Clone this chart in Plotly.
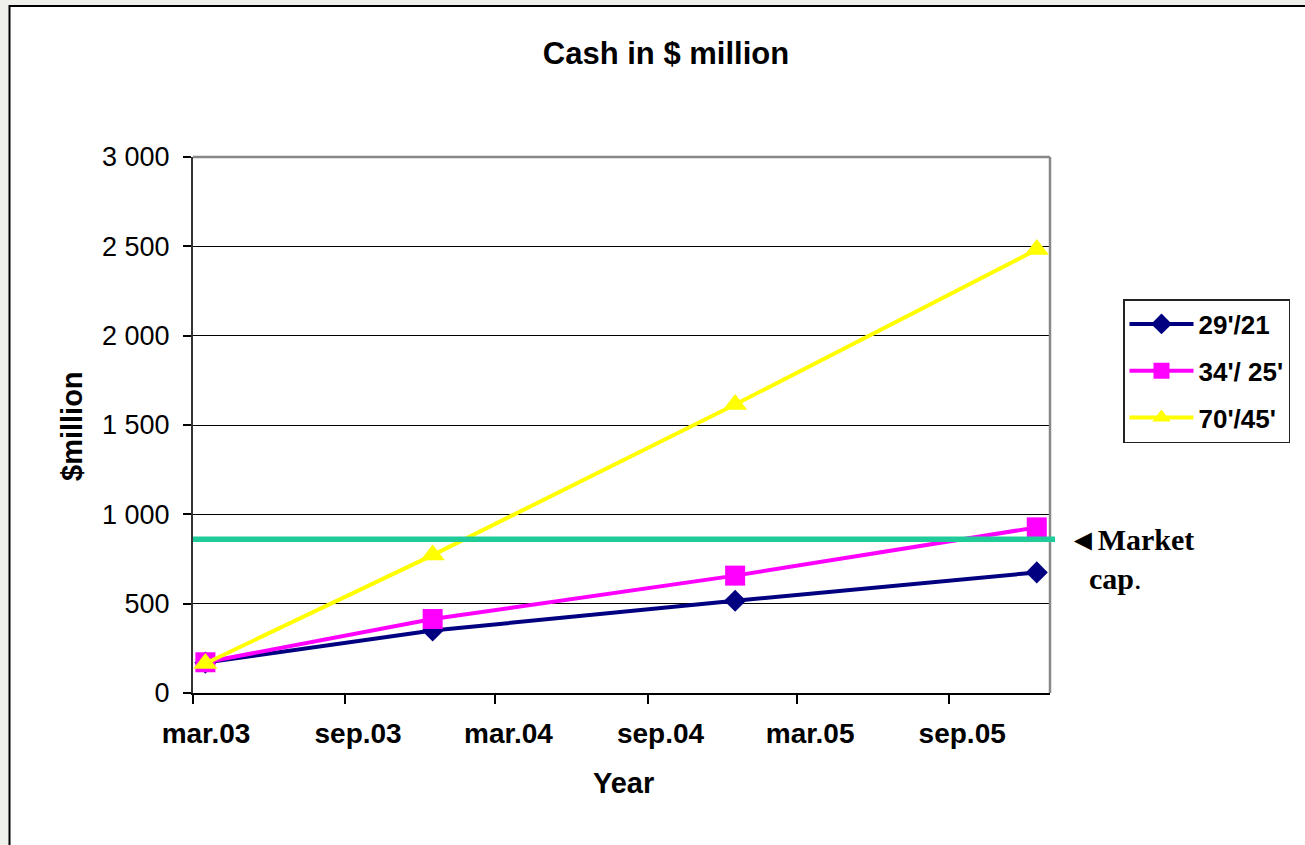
import pandas as pd
import plotly.graph_objects as go

# ---- data -------------------------------------------------------------
months = ["2003-03", "2003-12", "2004-12", "2005-12"]
series_names = ["29'/21", "34'/ 25'", "70'/45'"]
cash_29_21 = [170, 350, 516, 675]
cash_34_25 = [172, 414, 657, 927]
cash_70_45 = [165, 772, 1615, 2482]
market_cap = 860

x_tick_dates = ["2003-03-01", "2003-09-01", "2004-03-01",
                "2004-09-01", "2005-03-01", "2005-09-01"]
x_tick_labels = ["mar.03", "sep.03", "mar.04", "sep.04", "mar.05", "sep.05"]
y_tick_values = [0, 500, 1000, 1500, 2000, 2500, 3000]
y_tick_labels = ["0", "500", "1 000", "1 500", "2 000", "2 500", "3 000"]

# points sit in the middle of their month slot
x_dates = pd.to_datetime(months) + pd.Timedelta(days=15)

SANS = "Liberation Sans, Arial, sans-serif"
SERIF = "Liberation Serif, Times New Roman, serif"

styles = [
    dict(color="#000080", symbol="diamond", size=17),
    dict(color="#FF00FF", symbol="square", size=20),
    dict(color="#FFFF00", symbol="triangle-up", size=21),
]

fig = go.Figure()
for name, vals, st, grp in zip(series_names, [cash_29_21, cash_34_25, cash_70_45],
                               styles, ["a", "b", "c"]):
    fig.add_trace(go.Scatter(
        x=x_dates, y=vals, name=name, mode="lines+markers",
        legendgroup=grp,
        line=dict(color=st["color"], width=4),
        marker=dict(color=st["color"], symbol=st["symbol"], size=st["size"],
                    line=dict(width=0)),
    ))

# plot-area geometry (px) used to place frame items in paper units
W, H = 1305, 845
ML, MR, MT, MB = 193, 255, 157, 152
PW, PH = W - ML - MR, H - MT - MB


def px_x(px):
    return (px - ML) / PW


def px_y(py):
    return (H - MB - py) / PH


shapes = [
    # slide frame
    dict(type="rect", xref="paper", yref="paper", layer="below",
         x0=px_x(9.5), x1=px_x(1330), y0=px_y(6), y1=px_y(870),
         fillcolor="white", line=dict(color="black", width=2)),
    # top and right plot borders
    dict(type="line", xref="paper", yref="paper", x0=0, x1=1, y0=1, y1=1,
         line=dict(color="#888888", width=2.5)),
    dict(type="line", xref="paper", yref="paper", x0=1, x1=1, y0=0, y1=1,
         line=dict(color="#888888", width=2.5)),
    # market cap level
    dict(type="line", xref="paper", yref="y", x0=0, x1=px_x(1055),
         y0=market_cap, y1=market_cap,
         line=dict(color="#1FCC99", width=5.5)),
]

annotations = [
    dict(text="◄<b>Market</b>", xref="paper", yref="y", x=px_x(1066), y=market_cap,
         xanchor="left", yanchor="middle", showarrow=False,
         font=dict(family=SERIF, size=30, color="black")),
    dict(text="<b>cap</b>.", xref="paper", yref="y", x=px_x(1087), y=market_cap,
         yshift=-39, xanchor="left", yanchor="middle", showarrow=False,
         font=dict(family=SERIF, size=30, color="black")),
    dict(text="<b>Year</b>", xref="paper", yref="paper", x=px_x(623), y=px_y(783),
         xanchor="center", yanchor="middle", showarrow=False,
         font=dict(family=SANS, size=29, color="black")),
    dict(text="<b>$million</b>", xref="paper", yref="paper", x=px_x(72), y=px_y(426),
         xanchor="center", yanchor="middle", showarrow=False, textangle=-90,
         font=dict(family=SANS, size=29, color="black")),
]

fig.update_layout(
    width=W, height=H,
    margin=dict(l=ML, r=MR, t=MT, b=MB),
    paper_bgcolor="#EFEFEC",
    plot_bgcolor="white",
    title=dict(text="<b>Cash in $ million</b>", xref="container", yref="container",
               x=666 / W, y=1 - 53 / H, xanchor="center", yanchor="middle",
               font=dict(family=SANS, size=31, color="black")),
    xaxis=dict(
        type="date", range=["2003-03-01", "2006-01-01"],
        tickvals=x_tick_dates, ticktext=x_tick_labels,
        ticks="outside", ticklen=9, tickwidth=1.5, tickcolor="black",
        ticklabelshift=13, ticklabelstandoff=5,
        showline=True, linecolor="black", linewidth=2,
        showgrid=False, zeroline=False,
        tickfont=dict(family=SANS, size=28, color="black", weight="bold"),
    ),
    yaxis=dict(
        range=[0, 3000],
        tickvals=y_tick_values, ticktext=y_tick_labels,
        ticks="outside", ticklen=8, tickwidth=1.5, tickcolor="black",
        ticklabelstandoff=8,
        showline=True, linecolor="#333333", linewidth=2,
        showgrid=True, gridcolor="black", gridwidth=1, zeroline=False,
        tickfont=dict(family=SANS, size=27, color="black"),
    ),
    legend=dict(
        x=px_x(1123), y=px_y(299), xanchor="left", yanchor="top",
        bordercolor="#222222", borderwidth=1.5, bgcolor="white",
        font=dict(family=SANS, size=26, color="black", weight="bold"),
        itemwidth=64, tracegroupgap=10,
    ),
    shapes=shapes,
    annotations=annotations,
    showlegend=True,
)

fig.write_html("out.html")
